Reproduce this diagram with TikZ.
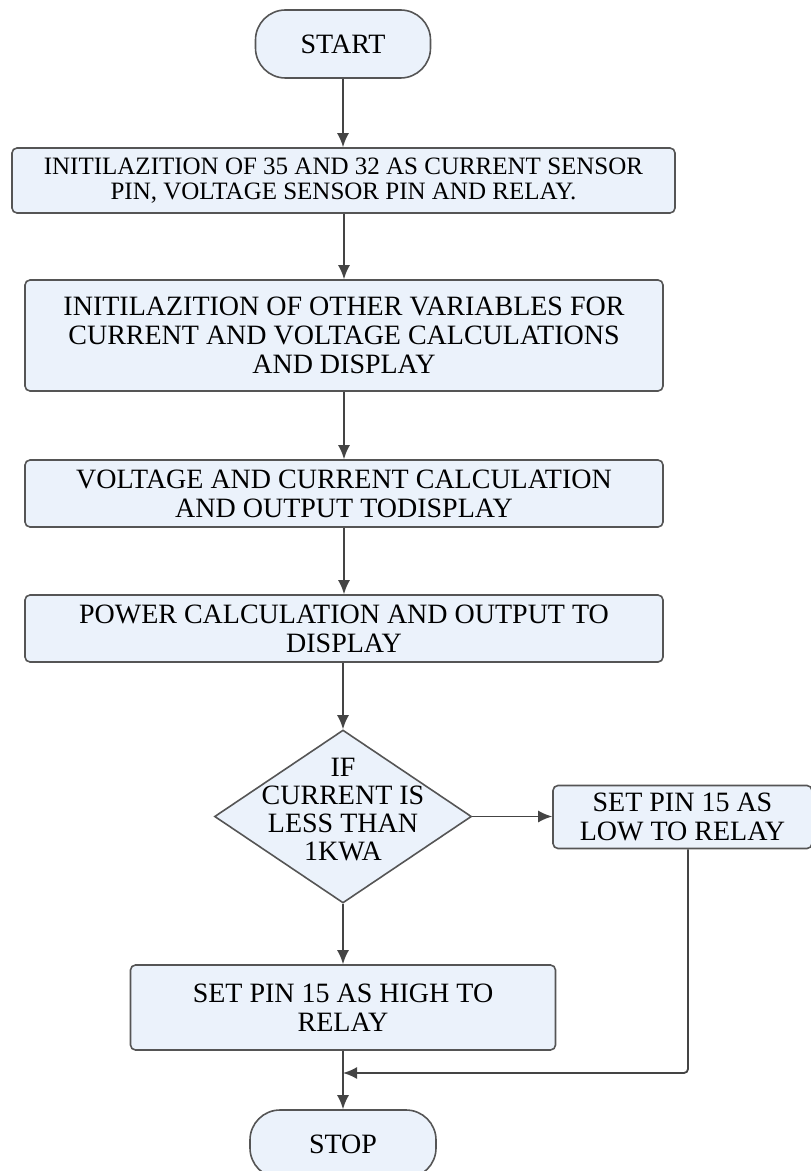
\documentclass[tikz,border=0pt]{standalone}
\usepackage{fontspec}
\setmainfont{Liberation Serif}
\usetikzlibrary{shapes.geometric,arrows.meta}

\definecolor{boxfill}{RGB}{235,242,251}
\definecolor{boxline}{RGB}{85,85,85}
\definecolor{flowline}{RGB}{68,68,68}

\tikzset{
  stepbox/.style={draw=boxline, fill=boxfill, line width=0.8pt, rounded corners=2.5pt,
    align=center, inner sep=0pt, font=\fontsize{14}{14.5}\selectfont},
  endbox/.style={stepbox, rounded corners=15pt},
  testbox/.style={draw=boxline, fill=boxfill, line width=0.8pt, diamond,
    inner sep=0pt, minimum width=128.5pt, minimum height=86.5pt},
  testtext/.style={align=center, inner sep=0pt, font=\fontsize{14}{14}\selectfont},
  flow/.style={draw=flowline, line width=0.9pt, -{Latex[length=7pt,width=6pt]}}
}

\begin{document}
\begin{tikzpicture}[x=0.5pt, y=-0.5pt]

\useasboundingbox (0,0) rectangle (810,1171);

\node [endbox, minimum width=87.5pt, minimum height=34pt] (start) at (343, 44) {START};

\node [stepbox, minimum width=331.5pt, minimum height=32.5pt, font=\fontsize{12.5}{12.8}\selectfont]
  (pins) at (343.5, 180.5) {INITILAZITION OF 35 AND 32 AS CURRENT SENSOR\\PIN, VOLTAGE SENSOR PIN AND RELAY.};

\node [stepbox, minimum width=319pt, minimum height=55.5pt]
  (vars) at (344, 335.5) {INITILAZITION OF OTHER VARIABLES FOR\\CURRENT AND VOLTAGE CALCULATIONS\\AND DISPLAY};

\node [stepbox, minimum width=319pt, minimum height=33.5pt]
  (calc) at (344, 493.5) {VOLTAGE AND CURRENT CALCULATION\\AND OUTPUT TODISPLAY};

\node [stepbox, minimum width=319pt, minimum height=33.5pt]
  (power) at (344, 628.5) {POWER CALCULATION AND OUTPUT TO\\DISPLAY};

\node [testbox] (check) at (343, 816.5) {};
\node [testtext] (checktext) at (343, 810) {IF\\CURRENT IS\\LESS THAN\\1KWA};

\node [stepbox, minimum width=129.5pt, minimum height=31.5pt]
  (low) at (682.5, 817) {SET PIN 15 AS\\LOW TO RELAY};

\node [stepbox, minimum width=212.5pt, minimum height=42.5pt]
  (high) at (343, 1007.5) {SET PIN 15 AS HIGH TO\\RELAY};

\node [endbox, minimum width=93pt, minimum height=34pt] (stop) at (343, 1144) {STOP};

% main line
\draw [flow] (start) -- (start |- pins.north);
\draw [flow] (pins.south -| vars.north) -- (vars.north);
\draw [flow] (vars) -- (calc);
\draw [flow] (calc) -- (power);
\draw [flow] (power.south -| check.north) -- (check.north);

% decision
\draw [flow] (check.east) -- (low.west |- check.east);
\draw [flow] (check.south) -- (check.south |- high.north);
\draw [flow] (high.south -| stop.north) -- (stop.north);

% join from the right
\coordinate (join) at (688, 1073);
\draw [flow, rounded corners=2pt] (low.south -| join) |- (join -| stop.north);

\end{tikzpicture}
\end{document}
